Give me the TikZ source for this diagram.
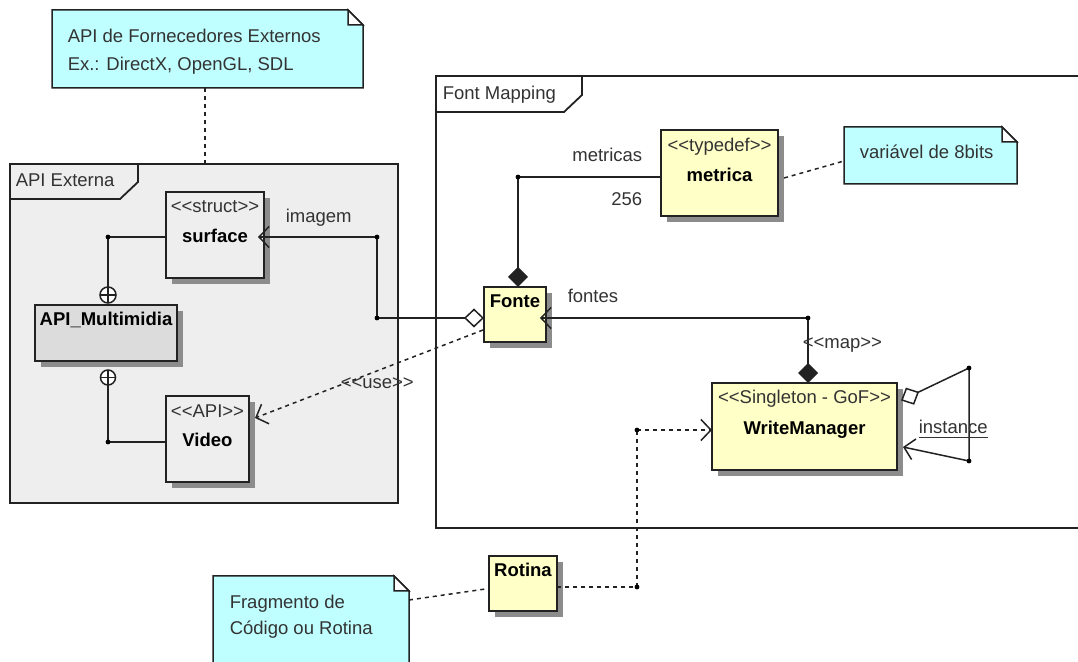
\documentclass[tikz,border=0pt]{standalone}
\usepackage{fontspec}
\setmainfont{Liberation Sans}
\usetikzlibrary{arrows.meta,shadows}

\definecolor{notefill}{HTML}{C0FFFF}
\definecolor{classfill}{HTML}{FFFFC8}
\definecolor{pkgfill}{HTML}{EEEEEE}
\definecolor{apifill}{HTML}{DCDCDC}
\definecolor{shadowgray}{HTML}{8C8C8C}
\definecolor{txtgray}{HTML}{333333}
\definecolor{linegray}{HTML}{222222}

% stereotype text in double angle brackets (kerns keep << from becoming a guillemet)
\newcommand\stereotype[1]{<\kern0pt<#1>\kern0pt>}

% note with folded corner: #1 name, (#2,#3) top-left, (#4,#5) bottom-right
\newcommand\umlnote[5]{%
  \filldraw[notebody] (#2,#3) -- (#4-15,#3) -- (#4,#3+15) -- (#4,#5) -- (#2,#5) -- cycle;
  \filldraw[notebody,fill=white] (#4-15,#3) -- (#4-15,#3+15) -- (#4,#3+15) -- cycle;
  \coordinate (#1-nw) at (#2,#3);
  \coordinate (#1-se) at (#4,#5);
}

\begin{document}
\begin{tikzpicture}[x=0.5pt,y=-0.5pt,
  font=\fontsize{9.25}{14}\selectfont,
  line width=0.75pt,
  notebody/.style={draw=linegray,fill=notefill,line width=0.75pt},
  umlbox/.style={draw=linegray,fill=classfill,line width=0.9pt,anchor=north west,
    inner sep=0pt,outer sep=0pt,
    drop shadow={shadow xshift=2.8pt,shadow yshift=-2.8pt,fill=shadowgray,opacity=1}},
  sz/.style 2 args={minimum width=#1*0.5pt,minimum height=#2*0.5pt},
  pkgframe/.style={draw=linegray,line width=0.9pt,anchor=north west,inner sep=0pt,outer sep=0pt},
  lbl/.style={text=txtgray,inner sep=0pt},
  cname/.style={text=black,font=\fontsize{9.25}{14}\selectfont\bfseries,inner sep=0pt,anchor=base},
  stereo/.style={text=txtgray,inner sep=0pt,anchor=base},
  notelink/.style={draw=linegray,dash pattern=on 2pt off 2pt,line width=0.75pt},
  deplink/.style={draw=linegray,dash pattern=on 2pt off 2pt,line width=0.75pt},
  barb/.style={-{Straight Barb[length=5pt,width=10.5pt,line width=0.75pt]}},
  comp/.style={-{Diamond[length=10pt,width=10pt]}},
  aggr/.style={-{Diamond[open,length=10pt,width=9.5pt,fill=white,line width=0.75pt]}},
  jdot/.style={fill=black},
]
\useasboundingbox[fill=white] (0,0) rectangle (1078,662);

% ---------------- package frames ----------------
\node[pkgframe,fill=pkgfill,sz={388}{339}] (apiext) at (10,164) {};
\draw[draw=linegray,line width=0.9pt] (10,199) -- (120,199) -- (138,182) -- (138,164);
\node[lbl,anchor=base west] (apiext-title) at (15,187) {API Externa};

\node[pkgframe,fill=white,sz={680}{452}] (fontmap) at (436,76) {};
\draw[draw=linegray,line width=0.9pt] (436,112) -- (564,112) -- (582,95) -- (582,76);
\node[lbl,anchor=base west] (fontmap-title) at (442,100) {Font Mapping};

% ---------------- notes ----------------
\umlnote{noteapi}{52}{10}{363}{88}
\node[lbl,anchor=base west] (noteapi-l1) at (67,43) {API de Fornecedores Externos};
\node[lbl,anchor=base west] (noteapi-l2) at (67,71) {Ex.: DirectX, OpenGL, SDL};

\umlnote{notebits}{844}{127}{1017}{184}
\node[lbl,anchor=base west] (notebits-l1) at (859,159) {variável de 8bits};

\umlnote{noterot}{213}{576}{409}{690}
\node[lbl,anchor=base west] (noterot-l1) at (229,609) {Fragmento de};
\node[lbl,anchor=base west] (noterot-l2) at (229,635) {Código ou Rotina};

% ---------------- classes ----------------
\node[umlbox,fill=pkgfill,sz={98}{86}] (surface) at (166,192) {};
\node[stereo] (surface-st) at (215,213) {\stereotype{struct}};
\node[cname] (surface-nm) at (215,243) {surface};

\node[umlbox,fill=apifill,sz={142}{56}] (apimm) at (35,305) {};
\node[cname] (apimm-nm) at (106,326) {API\_Multimidia};

\node[umlbox,fill=pkgfill,sz={83}{86}] (video) at (166,396) {};
\node[stereo] (video-st) at (207.5,418) {\stereotype{API}};
\node[cname] (video-nm) at (207.5,447) {Video};

\node[umlbox,sz={117}{86}] (metrica) at (661,130) {};
\node[stereo] (metrica-st) at (719.5,152) {\stereotype{typedef}};
\node[cname] (metrica-nm) at (719.5,182) {metrica};

\node[umlbox,sz={62}{55}] (fonte) at (484,287) {};
\node[cname] (fonte-nm) at (515,308) {Fonte};

\node[umlbox,sz={185}{87}] (wm) at (712,383) {};
\node[stereo] (wm-st) at (804.5,404) {\stereotype{Singleton - GoF}};
\node[cname] (wm-nm) at (804.5,435) {WriteManager};

\node[umlbox,sz={68}{55}] (rotina) at (489,556) {};
\node[cname] (rotina-nm) at (523,577) {Rotina};

% ---------------- junction points ----------------
\coordinate (nestTop) at (108,237);
\coordinate (nestBot) at (108,442);
\coordinate (plusTop) at (108,295);
\coordinate (plusBot) at (108,377.5);
\coordinate (imgJ) at (377,237);
\coordinate (aggJ) at (377,318);
\coordinate (metJ) at (518,177);
\coordinate (mapJ) at (808,318);
\coordinate (selfA) at (969,368);
\coordinate (selfB) at (969,461);
\coordinate (rotJ) at (637,587);
\coordinate (wmJ) at (637,430);

% ---------------- note links ----------------
\draw[notelink] (205,88) -- (205,164);
\draw[notelink] ([xshift=3pt,yshift=-2.5pt]metrica.east) -- (844,161);
\draw[notelink] (409,600) -- ([yshift=-2.5pt]rotina.west);

% ---------------- nesting (circle-plus) ----------------
\draw[linegray] (surface.west |- nestTop) -- (nestTop) -- ([yshift=4pt]plusTop);
\draw[linegray] (video.west |- nestBot) -- (nestBot) -- ([yshift=-3.75pt]plusBot);
\foreach \c/\r in {plusTop/4pt,plusBot/3.75pt}{
  \draw[linegray,fill=white] (\c) circle (\r);
  \draw[linegray] ([xshift=-\r]\c) -- ([xshift=\r]\c);
  \draw[linegray] ([yshift=-\r]\c) -- ([yshift=\r]\c);
}

% ---------------- associations ----------------
\draw[linegray,barb,shorten >=-3pt] (aggJ) -- (imgJ) -- (surface.east |- imgJ);
\draw[linegray,aggr] (aggJ) -- (fonte.west |- aggJ);
\node[lbl,anchor=base west] (lbl-imagem) at (285,223) {imagem};

\draw[linegray,comp] (metrica.west |- metJ) -- (metJ) -- (metJ |- fonte.north);
\node[lbl,anchor=base east] (lbl-metricas) at (643,162) {metricas};
\node[lbl,anchor=base east] (lbl-256) at (643,206) {256};

\draw[linegray,barb,shorten >=-3pt] (mapJ) -- (fonte.east |- mapJ);
\node[lbl,anchor=base west] (lbl-fontes) at (567,303) {fontes};
\draw[linegray,comp] (mapJ) -- (mapJ |- wm.north);
\node[lbl,anchor=base west] (lbl-map) at (802,349) {\stereotype{map}};

\draw[linegray,aggr] (selfA) -- ([xshift=2pt,yshift=13pt]wm.east);
\draw[linegray,barb] (selfA) -- (selfB) -- ([xshift=3pt,yshift=-10.25pt]wm.east);
\node[lbl,anchor=base west] (lbl-instance) at (918,434) {\underline{instance}};

% ---------------- dependencies ----------------
\draw[deplink,barb] ([xshift=-0.5pt,yshift=-7.75pt]fonte.west) -- ([xshift=3pt,yshift=10.5pt]video.east);
\node[lbl,anchor=base west] (lbl-use) at (340,389) {\stereotype{use}};

\draw[deplink] (rotina.east |- rotJ) -- (rotJ) -- (wmJ);
\draw[deplink,barb] (wmJ) -- (wm.west |- wmJ);

% ---------------- junction dots ----------------
\foreach \p in {nestTop,nestBot,imgJ,aggJ,metJ,mapJ,selfA,selfB,wmJ,rotJ}
  \fill[jdot] (\p) circle (1.2pt);
\end{tikzpicture}
\end{document}
